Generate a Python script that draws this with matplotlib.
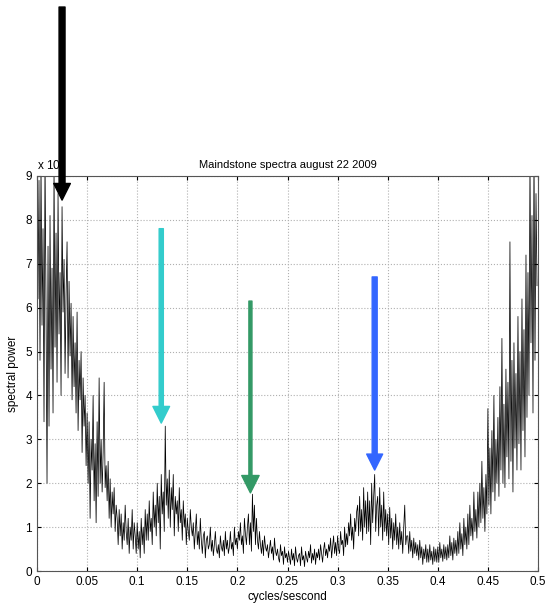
import numpy as np
import matplotlib
matplotlib.use("Agg")
import matplotlib.pyplot as plt
from matplotlib.ticker import MultipleLocator

plt.rcParams["font.family"] = ["Liberation Sans", "DejaVu Sans"]
plt.rcParams["font.size"] = 8

# spectral power (units of 1e7), one value every 0.001 cycles/second
power = [
    9.6, 6.2, 8.9, 4.8, 9.3, 5.6, 7.8, 3.4, 9.5, 6.0,
    2.0, 7.4, 3.3, 8.1, 4.6, 6.9, 3.6, 9.2, 5.1, 7.7,
    4.3, 8.6, 5.4, 6.8, 4.0, 8.3, 5.9, 7.1, 4.5, 6.3,
    7.5, 4.4, 6.6, 4.9, 6.1, 3.9, 5.8, 4.2, 5.2, 3.6,
    5.9, 3.2, 4.8, 3.9, 5.0, 2.7, 4.4, 3.3, 4.0, 2.4,
    3.6, 2.0, 3.4, 1.2, 3.0, 2.3, 4.0, 1.6, 2.9, 1.1,
    3.4, 1.7, 4.4, 2.0, 3.0, 1.8, 2.7, 4.3, 1.9, 2.4,
    1.6, 2.5, 1.2, 2.1, 1.0, 1.8, 1.3, 1.9, 0.9, 1.5,
    1.2, 0.6, 1.4, 0.8, 1.3, 0.5, 1.1, 0.7, 1.5, 0.9,
    0.6, 1.2, 0.4, 1.0, 0.7, 1.4, 0.5, 1.1, 0.8, 0.4,
    1.1, 0.5, 0.9, 0.3, 1.2, 0.6, 1.0, 0.4, 1.4, 0.7,
    1.3, 0.7, 1.6, 0.9, 1.2, 0.6, 1.8, 1.0, 1.5, 0.8,
    2.0, 1.1, 1.7, 0.5, 2.2, 1.3, 1.8, 0.9, 3.3, 1.5,
    2.1, 1.2, 2.3, 1.0, 1.9, 1.4, 2.2, 0.8, 1.7, 1.3,
    1.6, 0.9, 1.9, 1.1, 1.4, 0.7, 1.6, 1.0, 1.3, 0.6,
    1.2, 0.9, 0.7, 1.4, 1.0, 0.8, 1.1, 0.5, 0.9, 1.3,
    0.6, 0.9, 0.5, 1.2, 0.7, 0.4, 0.8, 0.9, 0.3, 0.7,
    0.8, 0.5, 0.6, 1.0, 0.45, 0.7, 0.35, 0.6, 0.9, 0.5,
    0.4, 0.6, 0.3, 0.8, 0.55, 0.45, 0.7, 0.35, 0.9, 0.5,
    0.7, 0.4, 0.55, 0.9, 0.5, 0.65, 0.35, 1.0, 0.6, 0.75,
    0.5, 0.9, 0.7, 1.1, 0.6, 0.8, 0.4, 1.2, 0.85, 0.6,
    1.0, 1.3, 0.6, 1.1, 0.45, 1.75, 0.9, 1.5, 0.6, 1.2,
    0.7, 0.5, 0.9, 0.6, 0.4, 0.7, 0.35, 0.8, 0.55, 0.45,
    0.6, 0.3, 0.5, 0.7, 0.4, 0.55, 0.25, 0.75, 0.45, 0.35,
    0.5, 0.3, 0.2, 0.6, 0.35, 0.45, 0.15, 0.55, 0.3, 0.4,
    0.2, 0.45, 0.3, 0.15, 0.5, 0.25, 0.4, 0.12, 0.55, 0.3,
    0.2, 0.35, 0.4, 0.12, 0.55, 0.25, 0.35, 0.1, 0.45, 0.3,
    0.2, 0.45, 0.3, 0.6, 0.18, 0.4, 0.25, 0.5, 0.15, 0.42,
    0.3, 0.5, 0.25, 0.6, 0.4, 0.2, 0.48, 0.65, 0.35, 0.5,
    0.3, 0.6, 0.45, 0.75, 0.3, 0.55, 0.8, 0.4, 0.65, 0.35,
    0.8, 0.5, 0.4, 0.9, 0.6, 0.7, 0.35, 1.0, 0.55, 0.85,
    0.6, 1.1, 0.8, 1.3, 0.7, 1.0, 0.5, 1.2, 0.9, 1.35,
    1.5, 0.8, 1.7, 0.9, 1.4, 0.7, 1.9, 1.0, 1.6, 0.85,
    1.8, 0.9, 1.6, 0.6, 2.0, 1.1, 1.7, 2.2, 0.9, 1.5,
    1.7, 0.8, 1.9, 1.0, 1.5, 0.7, 1.8, 0.9, 1.4, 0.8,
    1.3, 0.6, 1.45, 0.75, 1.2, 0.5, 1.1, 0.7, 1.3, 0.6,
    1.0, 0.5, 1.1, 0.6, 0.9, 0.4, 1.0, 1.5, 0.6, 0.8,
    0.8, 0.4, 0.9, 0.45, 0.7, 0.3, 0.75, 0.4, 0.65, 0.35,
    0.6, 0.25, 0.7, 0.3, 0.55, 0.15, 0.5, 0.28, 0.6, 0.2,
    0.5, 0.2, 0.6, 0.25, 0.45, 0.15, 0.55, 0.22, 0.5, 0.2,
    0.55, 0.2, 0.65, 0.3, 0.5, 0.22, 0.6, 0.28, 0.55, 0.25,
    0.6, 0.3, 0.8, 0.35, 0.65, 0.25, 0.75, 0.4, 0.7, 0.35,
    0.9, 0.4, 1.1, 0.5, 0.85, 0.35, 1.2, 0.6, 1.0, 0.5,
    1.3, 0.6, 1.5, 0.8, 1.2, 0.7, 1.8, 0.9, 1.4, 0.75,
    1.8, 1.0, 2.0, 1.1, 2.5, 1.2, 1.9, 0.9, 2.2, 1.3,
    3.7, 1.5, 2.8, 1.3, 3.2, 1.8, 4.0, 1.6, 3.0, 2.0,
    3.5, 1.7, 4.2, 2.3, 5.3, 2.0, 3.8, 1.9, 4.6, 2.6,
    4.3, 2.1, 7.5, 2.5, 4.8, 1.8, 5.2, 2.8, 4.5, 2.3,
    5.8, 2.9, 5.0, 2.3, 6.2, 3.2, 5.5, 2.6, 7.2, 3.5,
    6.8, 4.0, 9.4, 5.2, 8.1, 3.6, 9.6, 4.8, 8.6, 6.5,
]
freq = np.arange(len(power)) * 0.001

# arrows marking the spectral peaks: (freq, tail, tip, colour, shaft, head)
arrows = [
    (0.025, 12.85, 8.45, "black", 4.3, 12.0),
    (0.124, 7.80, 3.37, "#33cccc", 3.0, 12.0),
    (0.213, 6.15, 1.78, "#339966", 2.2, 12.5),
    (0.337, 6.70, 2.30, "#3366ff", 3.6, 11.5),
]

fig = plt.figure(figsize=(5.56, 6.13), dpi=100)
ax = fig.add_axes([37 / 556, 42 / 613, 501 / 556, 395 / 613])

ax.plot(freq, power, color="black", lw=0.55)

ax.set_xlim(0, 0.5)
ax.set_ylim(0, 9)
ax.set_xticks(np.arange(0, 0.501, 0.05))
ax.set_xticklabels(["0", "0.05", "0.1", "0.15", "0.2", "0.25", "0.3",
                    "0.35", "0.4", "0.45", "0.5"])
ax.set_yticks(np.arange(0, 10))
ax.tick_params(direction="in", length=3, top=True, right=True, labelsize=8.5)
ax.grid(True, color="#b0b0b0", linestyle=":", linewidth=0.8)
for s in ax.spines.values():
    s.set_color("#555555")
    s.set_linewidth(0.8)

ax.set_title("Maindstone spectra august 22 2009", fontsize=8, pad=6)
ax.set_xlabel("cycles/sescond", fontsize=8.5, labelpad=2)
ax.set_ylabel("spectral power", fontsize=8.5, labelpad=5)
ax.text(0.0, 1.008, r"x 10$^7$", transform=ax.transAxes, fontsize=8.5,
        ha="left", va="bottom")

for x, y0, y1, c, tw, hw in arrows:
    ax.annotate("", xy=(x, y1), xytext=(x, y0), annotation_clip=False,
                arrowprops=dict(arrowstyle=f"simple,head_length={hw},head_width={hw},tail_width={tw}",
                                color=c, shrinkA=0, shrinkB=0, mutation_scale=1))

fig.savefig("out.png", dpi=100)
